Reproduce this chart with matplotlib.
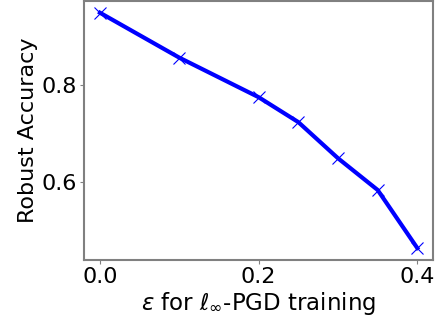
import matplotlib
matplotlib.use('Agg')
import matplotlib.pyplot as plt

EPSILONS = [0.0, 0.1, 0.2, 0.25, 0.3, 0.35, 0.4]
ROBUST_ACC = [0.947, 0.855, 0.774, 0.723, 0.649, 0.584, 0.465]
X_TICKS = [0.0, 0.2, 0.4]
Y_TICKS = [0.6, 0.8]


def plot_robust_accuracy() -> None:
    fig, ax = plt.subplots(figsize=(4.38, 3.22), dpi=100)
    fig.subplots_adjust(left=0.192, right=0.989, top=0.997, bottom=0.193)

    ax.plot(EPSILONS, ROBUST_ACC, color='blue', linewidth=3,
            marker='x', markersize=8, markeredgewidth=0.8)

    ax.set_xticks(X_TICKS)
    ax.set_yticks(Y_TICKS)
    ax.tick_params(labelsize=16, color='gray', length=3, pad=2)
    for spine in ax.spines.values():
        spine.set_color('gray')
        spine.set_linewidth(1.5)

    ax.set_xlabel(r'$\varepsilon$ for $\ell_\infty$-PGD training', fontsize=16.5,
                  labelpad=2)
    ax.set_ylabel('Robust Accuracy', fontsize=16, labelpad=3)
    fig.savefig('out.png')


plot_robust_accuracy()
